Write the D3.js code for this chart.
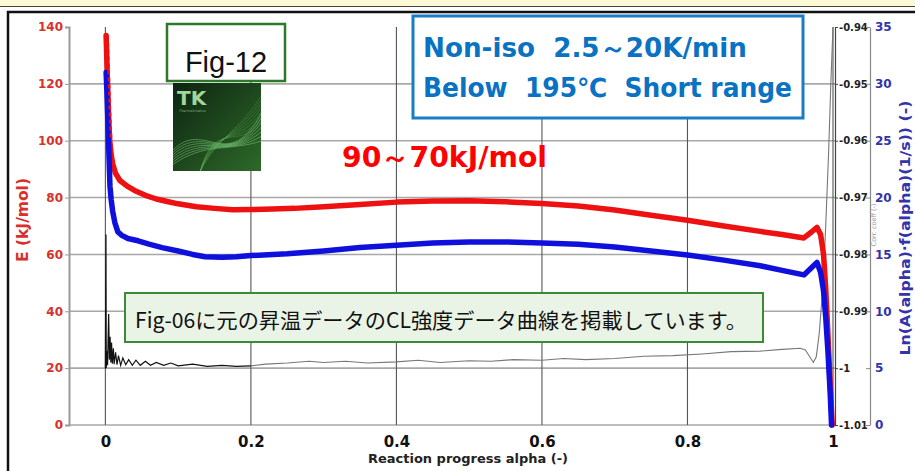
<!DOCTYPE html>
<html>
<head>
<meta charset="utf-8">
<script src="https://cdn.jsdelivr.net/npm/d3@7"></script>
<style>
body{margin:0;background:#fff;}
svg{display:block;}
</style>
</head>
<body>
<div id="chart"></div>
<script>
// ---- data ----
var xTicks = [0, 0.2, 0.4, 0.6, 0.8, 1];
var eTicks = [0, 20, 40, 60, 80, 100, 120, 140];
var lnTicks = [0, 5, 10, 15, 20, 25, 30, 35];
var corrTicks = [-1.01, -1, -0.99, -0.98, -0.97, -0.96, -0.95, -0.94];
var corrTickLabels = ["-1.01", "-1", "-0.99", "-0.98", "-0.97", "-0.96", "-0.95", "-0.94"];

// E (kJ/mol), red
var alphaE = [0.001, 0.0015, 0.002, 0.003, 0.004, 0.005, 0.006, 0.008, 0.01, 0.014, 0.02, 0.03, 0.04, 0.055, 0.07, 0.085,
  0.1, 0.125, 0.15, 0.175, 0.2, 0.23, 0.26, 0.3, 0.35, 0.4, 0.45, 0.5, 0.55, 0.6, 0.65, 0.7, 0.75, 0.8, 0.85, 0.9,
  0.93, 0.96, 0.97, 0.978, 0.983, 0.987, 0.99, 0.993, 0.996, 0.999];
var eValues = [137, 133, 128, 120, 112, 105, 100, 95, 92, 88.5, 86, 84, 82.5, 80.8, 79.5, 78.6,
  77.8, 76.8, 76.2, 75.7, 75.8, 76, 76.2, 76.8, 77.6, 78.4, 78.8, 78.9, 78.5, 77.9, 77, 75.6, 73.8, 72, 70, 68.1,
  67, 65.8, 67.8, 69.5, 67, 60, 48, 32, 15, 0];

// Ln(A(alpha)f(alpha)), blue
var alphaLn = [0.001, 0.002, 0.003, 0.004, 0.005, 0.0063, 0.008, 0.01, 0.013, 0.017, 0.022, 0.031, 0.045, 0.06, 0.078,
  0.1, 0.12, 0.137, 0.16, 0.18, 0.2, 0.25, 0.3, 0.35, 0.4, 0.45, 0.5, 0.55, 0.6, 0.65, 0.7, 0.75, 0.8, 0.85, 0.9,
  0.93, 0.96, 0.97, 0.978, 0.983, 0.987, 0.99, 0.993, 0.996, 0.998];
var lnValues = [31, 29.5, 27.5, 25.5, 23.5, 21, 19.8, 18.8, 17.8, 17, 16.7, 16.4, 16.2, 15.9, 15.6,
  15.3, 15.0, 14.8, 14.75, 14.8, 14.9, 15.05, 15.3, 15.6, 15.8, 16.0, 16.1, 16.1, 16.0, 15.9, 15.65, 15.3, 14.95, 14.5, 14.0,
  13.6, 13.2, 13.8, 14.3, 13.4, 11.8, 9.5, 6.5, 3, 0];

// correlation coefficient, black / grey
var alphaCorr = [0, 0.0008, 0.0012, 0.002, 0.003, 0.0045, 0.0055, 0.0065, 0.0075, 0.0085, 0.0095, 0.011, 0.012, 0.014,
  0.016, 0.018, 0.021, 0.024, 0.028, 0.032, 0.037, 0.042, 0.048, 0.055, 0.062, 0.07, 0.08, 0.09, 0.1, 0.12, 0.14, 0.16,
  0.18, 0.2, 0.22, 0.25, 0.28, 0.3, 0.33, 0.36, 0.4, 0.43, 0.46, 0.5, 0.53, 0.56, 0.6, 0.63, 0.66, 0.7, 0.74, 0.78,
  0.82, 0.86, 0.9, 0.93, 0.955, 0.962, 0.968, 0.973, 0.977, 0.981, 0.986, 0.99, 0.994, 0.997, 1.0];
var corrValues = [-1.0, -0.9765, -1.0, -0.997, -0.9995, -0.9905, -0.9985, -0.9945, -0.999, -0.9955, -0.9992, -0.9965,
  -0.9993, -0.9972, -0.9994, -0.9978, -0.9995, -0.9982, -0.9994, -0.9985, -0.9995, -0.9986, -0.9995, -0.9988, -0.9995,
  -0.999, -0.9995, -0.9991, -0.9996, -0.9993, -0.9997, -0.9995, -0.9997, -0.9996, -0.9993, -0.9991, -0.9988, -0.999,
  -0.9988, -0.9991, -0.9989, -0.9986, -0.999, -0.9987, -0.9988, -0.9985, -0.9986, -0.9983, -0.9985, -0.9983, -0.9979,
  -0.9978, -0.9975, -0.9971, -0.997, -0.9967, -0.9965, -0.9968, -0.998, -0.999, -0.998, -0.994, -0.986, -0.975,
  -0.962, -0.95, -0.94];

// ---- drawing ----
var svg = d3.select("#chart").append("svg")
  .attr("width", 915)
  .attr("height", 471);

var axisFont = "'DejaVu Sans', Verdana, sans-serif";

svg.append("rect").attr("width", 915).attr("height", 471).attr("fill", "#fff");
// top strip and frame
svg.append("rect").attr("x", 0).attr("y", 0).attr("width", 915).attr("height", 6).attr("fill", "#fdf9d4");
svg.append("line").attr("x1", 0).attr("x2", 915).attr("y1", 6.5).attr("y2", 6.5).attr("stroke", "#444").attr("stroke-width", 1);
svg.append("rect").attr("x", 8).attr("y", 12).attr("width", 930).attr("height", 480)
  .attr("fill", "none").attr("stroke", "#111").attr("stroke-width", 2.5);

var x = d3.scaleLinear().domain([-0.05, 1]).range([69, 833]);
var yE = d3.scaleLinear().domain([0, 140]).range([425, 27]);
var yLn = d3.scaleLinear().domain([0, 35]).range([425, 27]);
var yCorr = d3.scaleLinear().domain([-1.01, -0.94]).range([425, 27]);

// grid
svg.append("g").selectAll("line").data(eTicks.filter(d => d < 140))
  .enter().append("line")
  .attr("x1", 69).attr("x2", 835)
  .attr("y1", d => yE(d)).attr("y2", d => yE(d))
  .attr("stroke", "#a8a8a8").attr("stroke-width", 1.6);

svg.append("g").selectAll("line").data(xTicks)
  .enter().append("line")
  .attr("x1", d => x(d)).attr("x2", d => x(d))
  .attr("y1", 27).attr("y2", 425)
  .attr("stroke", "#555").attr("stroke-width", 1.1);

// axes
var leftAxis = svg.append("g").attr("transform", "translate(69,0)")
  .call(d3.axisLeft(yE).tickValues(eTicks).tickSize(4).tickPadding(2));
leftAxis.select(".domain").attr("stroke", "#999").attr("stroke-width", 2);
leftAxis.selectAll(".tick line").attr("stroke", "#999");
leftAxis.selectAll("text").attr("fill", "#d9302c").style("font", "bold 12px " + axisFont);

var bottomAxis = svg.append("g").attr("transform", "translate(0,425)")
  .call(d3.axisBottom(x).tickValues(xTicks).tickSize(0).tickPadding(11).tickFormat(d => String(d)));
bottomAxis.select(".domain").remove();
bottomAxis.selectAll("text").attr("fill", "#111").style("font", "bold 15px " + axisFont);

var corrAxis = svg.append("g").attr("transform", "translate(835,0)")
  .call(d3.axisRight(yCorr).tickValues(corrTicks).tickSize(3).tickPadding(1)
    .tickFormat((d, i) => corrTickLabels[i]));
corrAxis.select(".domain").attr("stroke", "#444").attr("stroke-width", 1.2);
corrAxis.selectAll(".tick line").attr("stroke", "#444");
corrAxis.selectAll("text").attr("fill", "#222").style("font", "bold 10px " + axisFont);

var lnAxis = svg.append("g").attr("transform", "translate(870,0)")
  .call(d3.axisRight(yLn).tickValues(lnTicks).tickSizeInner(-4).tickSizeOuter(0).tickPadding(5));
lnAxis.select(".domain").attr("stroke", "#888").attr("stroke-width", 1.2);
lnAxis.selectAll(".tick line").attr("stroke", "#888");
lnAxis.selectAll("text").attr("fill", "#3333aa").style("font", "bold 12px " + axisFont);

// axis titles
svg.append("text")
  .attr("transform", "translate(28,220) rotate(-90)")
  .attr("text-anchor", "middle")
  .attr("fill", "#d9302c")
  .attr("textLength", 84).attr("lengthAdjust", "spacingAndGlyphs")
  .style("font", "bold 15px " + axisFont)
  .text("E (kJ/mol)");

svg.append("text")
  .attr("x", 468).attr("y", 463)
  .attr("text-anchor", "middle")
  .attr("fill", "#222")
  .attr("textLength", 200).attr("lengthAdjust", "spacingAndGlyphs")
  .style("font", "bold 13px " + axisFont)
  .text("Reaction progress alpha (-)");

svg.append("text")
  .attr("transform", "translate(910,228) rotate(-90)")
  .attr("text-anchor", "middle")
  .attr("fill", "#3333aa")
  .attr("textLength", 255).attr("lengthAdjust", "spacingAndGlyphs")
  .style("font", "bold 14px " + axisFont)
  .text("Ln(A(alpha)·f(alpha)(1/s)) (-)");

svg.append("text")
  .attr("transform", "translate(876,225) rotate(-90)")
  .attr("text-anchor", "middle")
  .attr("fill", "#9a9a9a")
  .style("font", "6.5px " + axisFont)
  .text("Corr. coeff (-)");

// series
var corrPart = function (keep) {
  return d3.line().defined((d, i) => keep(alphaCorr[i])).x((d, i) => x(alphaCorr[i])).y(d => yCorr(d));
};
svg.append("path").datum(corrValues)
  .attr("d", corrPart(a => a <= 0.2))
  .attr("fill", "none").attr("stroke", "#111").attr("stroke-width", 1.2);
svg.append("path").datum(corrValues)
  .attr("d", corrPart(a => a >= 0.2))
  .attr("fill", "none").attr("stroke", "#777").attr("stroke-width", 1.1);

var eLine = d3.line().x((d, i) => x(alphaE[i])).y(d => yE(d));
svg.append("path").datum(eValues)
  .attr("d", eLine)
  .attr("fill", "none").attr("stroke", "#ee1111").attr("stroke-width", 5.5)
  .attr("stroke-linejoin", "round").attr("stroke-linecap", "round");

var lnLine = d3.line().x((d, i) => x(alphaLn[i])).y(d => yLn(d));
svg.append("path").datum(lnValues)
  .attr("d", lnLine)
  .attr("fill", "none").attr("stroke", "#1010dd").attr("stroke-width", 5.5)
  .attr("stroke-linejoin", "round").attr("stroke-linecap", "round");

// the red spike shows through the blue dots near alpha = 0
svg.append("path").datum(eValues)
  .attr("d", d3.line().defined((d, i) => alphaE[i] <= 0.006).x((d, i) => x(alphaE[i]) + 1.5).y(d => yE(d)))
  .attr("fill", "none").attr("stroke", "#ee1111").attr("stroke-width", 2.5)
  .attr("stroke-dasharray", "4,3");

// annotations
svg.append("rect").attr("x", 167).attr("y", 24).attr("width", 118).attr("height", 57)
  .attr("fill", "#fff").attr("stroke", "#2a7a2a").attr("stroke-width", 2.5);
svg.append("text").attr("x", 226).attr("y", 72).attr("text-anchor", "middle")
  .attr("fill", "#111").style("font", "29px 'Liberation Sans', Arial, sans-serif")
  .text("Fig-12");

// small cover picture
var defs = svg.append("defs");
var grad = defs.append("linearGradient").attr("id", "tkg")
  .attr("x1", 0).attr("y1", 0).attr("x2", 1).attr("y2", 1);
grad.append("stop").attr("offset", 0).attr("stop-color", "#0d2410");
grad.append("stop").attr("offset", 0.55).attr("stop-color", "#1f4a1e");
grad.append("stop").attr("offset", 1).attr("stop-color", "#2d6a28");
defs.append("clipPath").attr("id", "tkclip")
  .append("rect").attr("x", 173).attr("y", 83).attr("width", 88).attr("height", 88);
svg.append("rect").attr("x", 173).attr("y", 83).attr("width", 88).attr("height", 88).attr("fill", "url(#tkg)");
var strands = svg.append("g").attr("clip-path", "url(#tkclip)");
[0, 4, 8, 12, 16, 20, 24].forEach(function (k) {
  strands.append("path")
    .attr("d", "M173," + (150 + k * 0.6) + " C205," + (118 + k) + " 228," + (176 - k) + " 262," + (112 + k * 1.2))
    .attr("fill", "none").attr("stroke", "#8ee08a").attr("stroke-opacity", 0.45).attr("stroke-width", 1);
  strands.append("path")
    .attr("d", "M200,172 C215," + (140 - k) + " 240," + (130 + k) + " 262," + (95 + k))
    .attr("fill", "none").attr("stroke", "#6fd06a").attr("stroke-opacity", 0.3).attr("stroke-width", 0.8);
});
svg.append("text").attr("x", 177).attr("y", 105)
  .attr("fill", "#9fd89a").style("font", "bold 20px " + axisFont).text("TK");
svg.append("text").attr("x", 179).attr("y", 112)
  .attr("fill", "#7fb07a").style("font", "3.5px " + axisFont).text("Thermokinetics");

// blue condition box
svg.append("rect").attr("x", 413).attr("y", 16).attr("width", 390).attr("height", 102)
  .attr("fill", "#fff").attr("stroke", "#1b7cc6").attr("stroke-width", 3);
svg.append("text").attr("x", 423).attr("y", 57)
  .attr("fill", "#0a72c2").style("white-space", "pre")
  .attr("textLength", 324).attr("lengthAdjust", "spacingAndGlyphs")
  .style("font", "bold 26px " + axisFont)
  .text("Non-iso  2.5～20K/min");
svg.append("text").attr("x", 423).attr("y", 97)
  .attr("fill", "#0a72c2").style("white-space", "pre")
  .attr("textLength", 369).attr("lengthAdjust", "spacingAndGlyphs")
  .style("font", "bold 26px " + axisFont)
  .text("Below  195℃  Short range");

svg.append("text").attr("x", 342).attr("y", 167)
  .attr("fill", "#ff0000")
  .attr("textLength", 205).attr("lengthAdjust", "spacingAndGlyphs")
  .style("font", "bold 28px " + axisFont)
  .text("90～70kJ/mol");

// green note box
svg.append("rect").attr("x", 125).attr("y", 293).attr("width", 638).attr("height", 49)
  .attr("fill", "#eaf4e6").attr("stroke", "#3a8a3a").attr("stroke-width", 2);
svg.append("text").attr("x", 135).attr("y", 328)
  .attr("fill", "#111")
  .attr("textLength", 612).attr("lengthAdjust", "spacingAndGlyphs")
  .style("font", "21px 'Noto Sans CJK JP', sans-serif")
  .text("Fig-06に元の昇温データのCL強度データ曲線を掲載しています。");
</script>
</body>
</html>
